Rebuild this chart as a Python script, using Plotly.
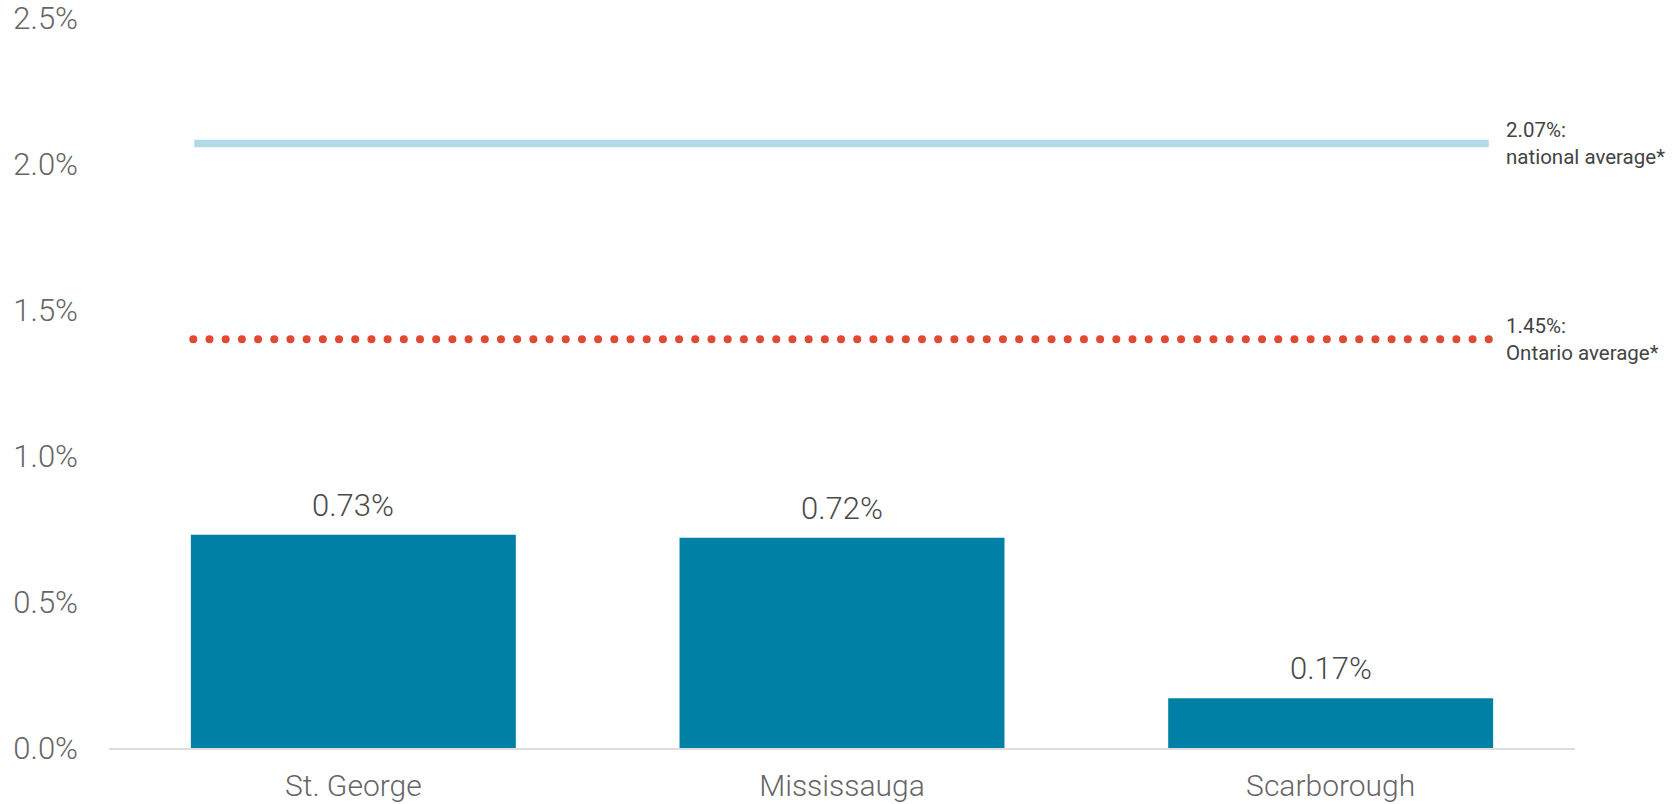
import numpy as np
import plotly.graph_objects as go

# ---- data ----
campuses = ["St. George", "Mississauga", "Scarborough"]
rates = [0.73, 0.72, 0.17]
value_labels = ["0.73%", "0.72%", "0.17%"]
y_ticks = [0.0, 0.5, 1.0, 1.5, 2.0, 2.5]
y_tick_labels = ["0.0%", "0.5%", "1.0%", "1.5%", "2.0%", "2.5%"]
national_avg = 2.07
national_label = "2.07%:<br>national average*"
ontario_avg_drawn = 1.40
ontario_label = "1.45%:<br>Ontario average*"

BAR = "#0080A4"
BLUE = "#B2DAE7"
RED = "#E04A33"
FONT = "Roboto"

xs = list(range(len(campuses)))

fig = go.Figure()
fig.add_trace(go.Bar(
    x=xs, y=rates, width=0.665, marker=dict(color=BAR, line=dict(width=0)),
    hoverinfo="skip", showlegend=False,
))

# national average line
fig.add_shape(type="line", xref="x", yref="y", x0=-0.3255, x1=2.3235,
              y0=national_avg, y1=national_avg,
              line=dict(color=BLUE, width=7.5), layer="above")

# Ontario average dotted line (round dots)
dots_x = np.linspace(-0.3275, 2.3235, 81)
fig.add_trace(go.Scatter(
    x=dots_x, y=[ontario_avg_drawn] * len(dots_x), mode="markers",
    marker=dict(color=RED, size=8, line=dict(width=0)),
    hoverinfo="skip", showlegend=False, cliponaxis=False,
))

# value labels
for x, v, t in zip(xs, rates, value_labels):
    fig.add_annotation(x=x, y=v, xref="x", yref="y", text=t, showarrow=False,
                       yanchor="bottom", yshift=9,
                       font=dict(family=FONT, size=31, color="#4a4a4a", weight=300))

# right-side labels
fig.add_annotation(x=2.355, y=national_avg, xref="x", yref="y", text=national_label,
                   showarrow=False, xanchor="left", yanchor="middle", align="left",
                   font=dict(family=FONT, size=20.5, color="#444444"))
fig.add_annotation(x=2.355, y=ontario_avg_drawn, xref="x", yref="y", text=ontario_label,
                   showarrow=False, xanchor="left", yanchor="middle", align="left",
                   font=dict(family=FONT, size=20.5, color="#444444"))

fig.update_layout(
    width=1675, height=804,
    margin=dict(l=109, r=100, t=18, b=56, pad=0),
    paper_bgcolor="white", plot_bgcolor="white",
    font=dict(family=FONT),
    xaxis=dict(range=[-0.5, 2.5], tickvals=xs, ticktext=campuses,
               showgrid=False, zeroline=False, showline=True,
               linecolor="#dddddd", linewidth=2, ticks="",
               tickfont=dict(family=FONT, size=30, color="#666666", weight=300),
               ticklabelstandoff=10, automargin=False),
    yaxis=dict(range=[0, 2.5], tickvals=y_ticks, ticktext=y_tick_labels,
               showgrid=False, zeroline=False, showline=False, ticks="",
               tickfont=dict(family=FONT, size=31, color="#666666", weight=300),
               ticklabelstandoff=30, automargin=False, ticklabeloverflow="allow"),
    bargap=0.335,
)

fig.write_html("out.html")
